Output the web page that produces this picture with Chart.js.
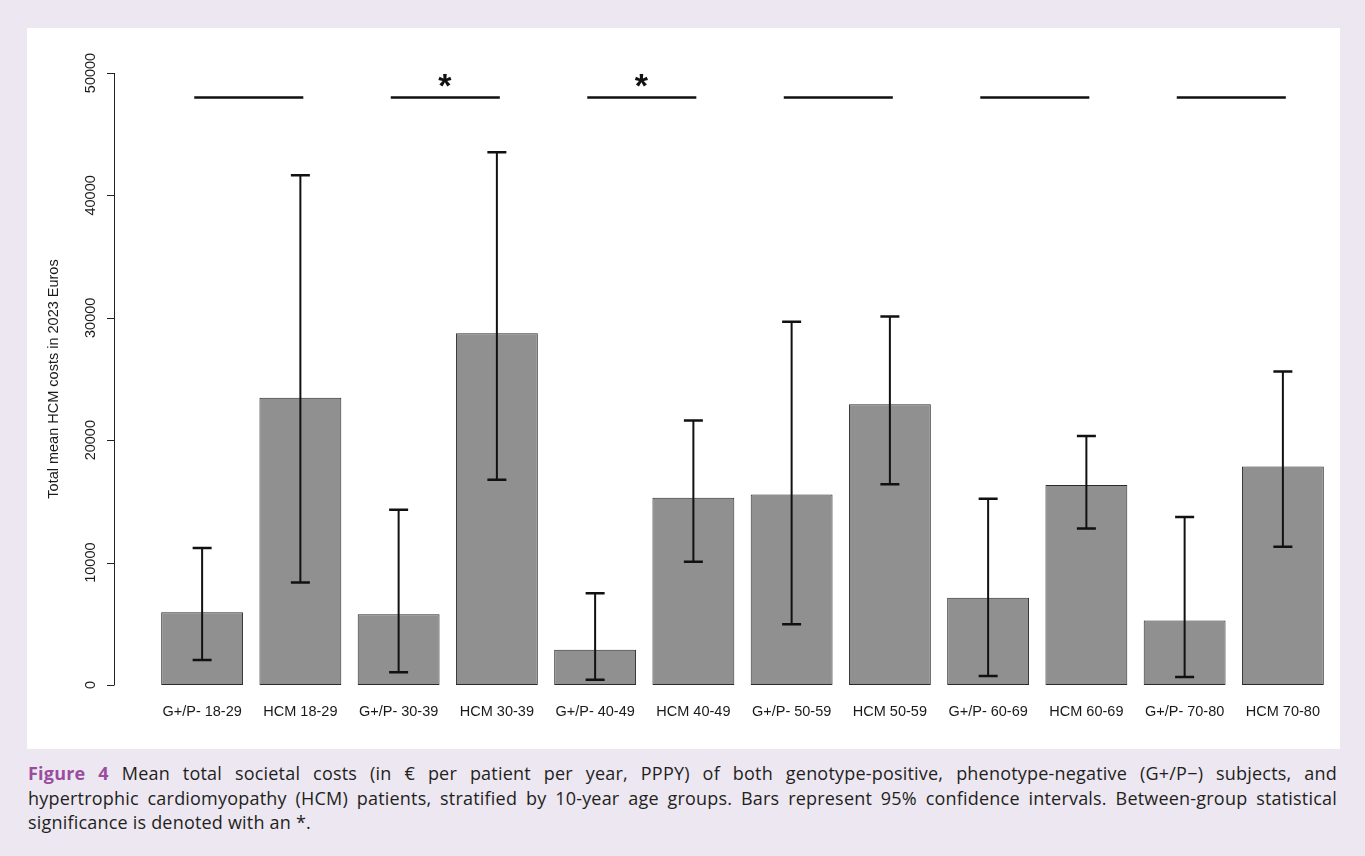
<!DOCTYPE html>
<html>
<head>
<meta charset="utf-8">
<script src="https://cdn.jsdelivr.net/npm/chart.js@4.4.1/dist/chart.umd.min.js"></script>
<style>
  html, body { margin: 0; padding: 0; width: 1365px; height: 856px; overflow: hidden; background: #ede7f2; }
  #panel { position: absolute; left: 27px; top: 28px; width: 1313px; height: 721px; background: #ffffff; }
  #panel canvas { display: block; }
  #caption { position: absolute; left: 28px; top: 761px; width: 1309px;
             font-family: "Open Sans", Lato, sans-serif; font-size: 18px; line-height: 24.5px; color: #231f20;
             letter-spacing: 0.2px; }
  #caption .ln { text-align: justify; text-align-last: justify; }
  #caption .last { text-align: left; }
  #caption b { color: #9a4c9e; font-weight: 700; }
</style>
</head>
<body>
<div id="panel"><canvas id="chart" width="1313" height="721"></canvas></div>
<div id="caption">
  <div class="ln"><b>Figure 4</b> Mean total societal costs (in € per patient per year, PPPY) of both genotype-positive, phenotype-negative (G+/P−) subjects, and</div>
  <div class="ln">hypertrophic cardiomyopathy (HCM) patients, stratified by 10-year age groups. Bars represent 95% confidence intervals. Between-group statistical</div>
  <div class="last">significance is denoted with an *.</div>
</div>
<script>
// Groups along the x axis
const categories = ['G+/P- 18-29', 'HCM 18-29', 'G+/P- 30-39', 'HCM 30-39', 'G+/P- 40-49', 'HCM 40-49',
                    'G+/P- 50-59', 'HCM 50-59', 'G+/P- 60-69', 'HCM 60-69', 'G+/P- 70-80', 'HCM 70-80'];
// Mean total costs (2023 euros) and 95% confidence limits
const meanCost = [5940, 23470, 5790, 28730, 2880, 15300, 15570, 22930, 7130, 16340, 5260, 17860];
const ciLower  = [2050, 8380, 1040, 16760, 420, 10070, 4960, 16400, 740, 12780, 650, 11290];
const ciUpper  = [11200, 41650, 14320, 43520, 7490, 21600, 29680, 30100, 15210, 20350, 13730, 25610];
// Y axis ticks
const yTicks = [0, 10000, 20000, 30000, 40000, 50000];
// Between-group comparison per age band (G+/P- vs HCM)
const significant = [false, true, true, false, false, false];
const bracketLevel = 48000;
const starLevel = 49350;
const yTitle = 'Total mean HCM costs in 2023 Euros';

const FONT = '"Liberation Sans", Arial, sans-serif';
const INK = '#1a1a1a';

const overlay = {
  id: 'overlay',
  afterDatasetsDraw(chart) {
    const { ctx, scales: { x, y } } = chart;
    ctx.save();

    // error bars
    ctx.strokeStyle = '#111';
    ctx.lineCap = 'butt';
    for (let i = 0; i < categories.length; i++) {
      const cx = x.getPixelForValue(i);
      const yl = y.getPixelForValue(ciLower[i]);
      const yu = y.getPixelForValue(ciUpper[i]);
      ctx.lineWidth = 2;
      ctx.beginPath();
      ctx.moveTo(cx, yl); ctx.lineTo(cx, yu);
      ctx.stroke();
      ctx.lineWidth = 2.5;
      ctx.beginPath();
      ctx.moveTo(cx - 9.5, yu); ctx.lineTo(cx + 9.5, yu);
      ctx.moveTo(cx - 9.5, yl); ctx.lineTo(cx + 9.5, yl);
      ctx.stroke();
    }

    // comparison lines and significance stars
    ctx.lineWidth = 2.5;
    ctx.strokeStyle = '#111';
    for (let p = 0; p < significant.length; p++) {
      const i = p * 2;
      const x0 = x.getPixelForValue(i - 0.08);
      const x1 = x.getPixelForValue(i + 1.03);
      const yb = y.getPixelForValue(bracketLevel);
      ctx.beginPath();
      ctx.moveTo(x0, yb); ctx.lineTo(x1, yb);
      ctx.stroke();
      if (significant[p]) {
        ctx.font = 'bold 34px ' + FONT;
        ctx.fillStyle = '#111';
        ctx.textAlign = 'center';
        ctx.textBaseline = 'alphabetic';
        const m = ctx.measureText('*');
        const cy = y.getPixelForValue(starLevel);
        const base = cy + (m.actualBoundingBoxAscent - m.actualBoundingBoxDescent) / 2;
        ctx.fillText('*', (x.getPixelForValue(i) + x.getPixelForValue(i + 1)) / 2 - 3, base);
      }
    }

    // y axis drawn offset from the bars
    const ax = 87;
    ctx.strokeStyle = '#222';
    ctx.lineWidth = 1;
    ctx.beginPath();
    ctx.moveTo(ax + 0.5, y.getPixelForValue(yTicks[0]));
    ctx.lineTo(ax + 0.5, y.getPixelForValue(yTicks[yTicks.length - 1]));
    for (const t of yTicks) {
      const ty = Math.round(y.getPixelForValue(t)) + 0.5;
      ctx.moveTo(ax - 7, ty); ctx.lineTo(ax + 0.5, ty);
    }
    ctx.stroke();

    ctx.fillStyle = INK;
    ctx.font = '14.5px ' + FONT;
    ctx.textAlign = 'center';
    ctx.textBaseline = 'middle';
    for (const t of yTicks) {
      ctx.save();
      ctx.translate(64, y.getPixelForValue(t));
      ctx.rotate(-Math.PI / 2);
      ctx.fillText(String(t), 0, 0);
      ctx.restore();
    }

    // y axis title
    ctx.save();
    ctx.translate(27, (y.getPixelForValue(yTicks[0]) + y.getPixelForValue(yTicks[yTicks.length - 1])) / 2);
    ctx.rotate(-Math.PI / 2);
    ctx.fillText(yTitle, 0, 0);
    ctx.restore();

    ctx.restore();
  }
};

new Chart(document.getElementById('chart'), {
  type: 'bar',
  data: {
    labels: categories,
    datasets: [{
      data: meanCost,
      backgroundColor: '#909090',
      borderColor: '#2a2a2a',
      borderWidth: 1,
      borderSkipped: false,
      categoryPercentage: 1,
      barPercentage: 1 / 1.2
    }]
  },
  options: {
    responsive: false,
    animation: false,
    devicePixelRatio: 1,
    layout: { padding: { top: 45, right: 8, left: 0, bottom: 0 } },
    plugins: { legend: { display: false }, tooltip: { enabled: false } },
    scales: {
      x: {
        grid: { display: false, drawTicks: false },
        border: { display: false },
        ticks: { color: INK, font: { family: FONT, size: 14.5 }, padding: 18, maxRotation: 0, minRotation: 0, autoSkip: false },
        afterFit(s) { s.height = 64; }
      },
      y: {
        min: 0, max: 50000,
        ticks: { stepSize: 10000, display: false },
        grid: { display: false },
        border: { display: false },
        afterFit(s) { s.width = 126; }
      }
    }
  },
  plugins: [overlay]
});
</script>
</body>
</html>
